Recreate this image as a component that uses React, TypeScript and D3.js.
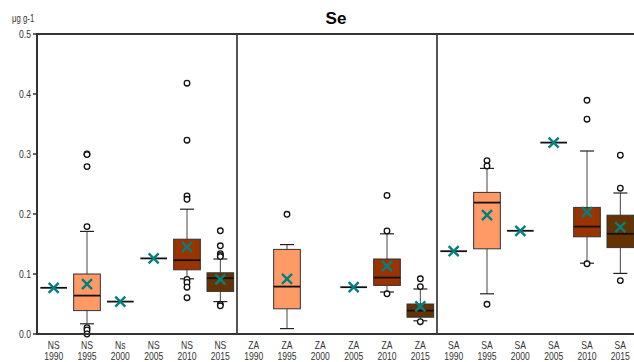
import React from "react";
import * as d3 from "d3";

// Sampling groups: site + year
const sites = ["NS", "NS", "Ns", "NS", "NS", "NS", "ZA", "ZA", "ZA", "ZA", "ZA", "ZA", "SA", "SA", "SA", "SA", "SA", "SA"];
const years = ["1990", "1995", "2000", "2005", "2010", "2015", "1990", "1995", "2000", "2005", "2010", "2015", "1990", "1995", "2000", "2005", "2010", "2015"];

// Box statistics (null where the group has no spread / no data)
const q1 = [null, 0.039, null, null, 0.107, 0.071, null, 0.042, null, null, 0.081, 0.028, null, 0.142, null, null, 0.162, 0.144];
const median = [0.077, 0.064, 0.054, 0.126, 0.123, 0.093, null, 0.079, null, 0.078, 0.094, 0.039, 0.138, 0.219, 0.172, 0.319, 0.179, 0.167];
const q3 = [null, 0.1, null, null, 0.158, 0.102, null, 0.141, null, null, 0.125, 0.05, null, 0.236, null, null, 0.211, 0.198];
const whiskerLow = [null, 0.017, null, null, 0.092, 0.054, null, 0.009, null, null, 0.07, 0.022, null, 0.067, null, null, 0.118, 0.101];
const whiskerHigh = [null, 0.171, null, null, 0.208, 0.125, null, 0.149, null, null, 0.167, 0.075, null, 0.276, null, null, 0.305, 0.235];
const means = [0.077, 0.083, 0.054, 0.126, 0.145, 0.091, null, 0.092, null, 0.078, 0.113, 0.046, 0.138, 0.198, 0.172, 0.319, 0.203, 0.178];
const outliers: number[][] = [
  [],
  [0.3, 0.299, 0.279, 0.179, 0.0105, 0.0067, 0.0],
  [],
  [],
  [0.418, 0.323, 0.23, 0.2245, 0.091, 0.086, 0.078, 0.0605],
  [0.172, 0.147, 0.134, 0.131, 0.129, 0.0495, 0.047],
  [],
  [0.1995],
  [],
  [],
  [0.231, 0.1717, 0.067],
  [0.092, 0.079, 0.0205],
  [],
  [0.289, 0.28, 0.0495],
  [],
  [],
  [0.3895, 0.358, 0.117],
  [0.298, 0.243, 0.089],
];

const yTicks = [0, 0.1, 0.2, 0.3, 0.4, 0.5];
const yearFill: Record<string, string> = { "1995": "#FF9966", "2010": "#993300", "2015": "#663300" };

const W = 634;
const H = 362;
const left = 37;
const top = 34;
const bottom = 334;
const font = "'Liberation Sans', Arial, sans-serif";

// Condensed label: regular sans squeezed horizontally
function NarrowText(props: { x: number; y: number; anchor: "start" | "middle" | "end"; size: number; children: React.ReactNode }) {
  return (
    <g transform={`translate(${props.x},${props.y}) scale(0.78,1)`}>
      <text x={0} y={0} textAnchor={props.anchor} fontSize={props.size} fill="#333">{props.children}</text>
    </g>
  );
}

export default function App() {
  const keys = sites.map((s, i) => `${i}`);
  const x = d3.scaleBand<string>().domain(keys).range([left, left + 600]).padding(0);
  const y = d3.scaleLinear().domain([0, 0.5]).range([bottom, top]);
  const bw = x.bandwidth();
  const boxW = bw * 0.8;
  const capW = 14;
  const xs = 5;

  return (
    <svg width={W} height={H} style={{ position: "fixed", left: 0, top: 0, background: "#fff" }} fontFamily={font}>
      <text x={336} y={24} textAnchor="middle" fontSize={17} fontWeight="bold" fill="#000">Se</text>
      <NarrowText x={12} y={22} anchor="start" size={10}>μg g-1</NarrowText>

      {/* panel dividers */}
      {[6, 12].map((i) => (
        <line key={i} x1={x(`${i}`)!} x2={x(`${i}`)!} y1={top} y2={bottom} stroke="#555" strokeWidth={2} />
      ))}
      <line x1={left} x2={W} y1={top} y2={top} stroke="#333" strokeWidth={2} />

      {/* y axis */}
      {yTicks.map((t) => (
        <g key={t}>
          <line x1={left - 4} x2={left + 1} y1={y(t)} y2={y(t)} stroke="#333" strokeWidth={1.5} />
          <NarrowText x={left - 6} y={y(t) + 4} anchor="end" size={11}>{t.toFixed(1)}</NarrowText>
        </g>
      ))}

      {/* boxes */}
      {keys.map((k, i) => {
        const cx = x(k)! + bw / 2;
        const items: React.ReactNode[] = [];
        if (q1[i] != null && q3[i] != null) {
          const fill = yearFill[years[i]];
          items.push(
            <line key="wl" x1={cx} x2={cx} y1={y(whiskerLow[i]!)} y2={y(q1[i]!)} stroke="#444" strokeWidth={1} />,
            <line key="wh" x1={cx} x2={cx} y1={y(whiskerHigh[i]!)} y2={y(q3[i]!)} stroke="#444" strokeWidth={1} />,
            <line key="cl" x1={cx - capW / 2} x2={cx + capW / 2} y1={y(whiskerLow[i]!)} y2={y(whiskerLow[i]!)} stroke="#222" strokeWidth={1.2} />,
            <line key="ch" x1={cx - capW / 2} x2={cx + capW / 2} y1={y(whiskerHigh[i]!)} y2={y(whiskerHigh[i]!)} stroke="#222" strokeWidth={1.2} />,
            <rect key="b" x={cx - boxW / 2} y={y(q3[i]!)} width={boxW} height={y(q1[i]!) - y(q3[i]!)} fill={fill} stroke="#333" strokeWidth={1} />
          );
        }
        if (median[i] != null) {
          items.push(
            <line key="m" x1={cx - boxW / 2} x2={cx + boxW / 2} y1={y(median[i]!)} y2={y(median[i]!)} stroke="#111" strokeWidth={1.8} />
          );
        }
        outliers[i].forEach((v, j) => {
          items.push(<circle key={`o${j}`} cx={cx} cy={y(v)} r={2.8} fill="#fff" stroke="#111" strokeWidth={1.3} />);
        });
        if (means[i] != null) {
          const my = y(means[i]!);
          items.push(
            <path key="x" d={`M${cx - xs},${my - xs}L${cx + xs},${my + xs}M${cx - xs},${my + xs}L${cx + xs},${my - xs}`} stroke="#008080" strokeWidth={2.4} fill="none" />
          );
        }
        items.push(
          <NarrowText key="s" x={cx} y={349} anchor="middle" size={11}>{sites[i]}</NarrowText>,
          <NarrowText key="yr" x={cx} y={360} anchor="middle" size={11}>{years[i]}</NarrowText>
        );
        return <g key={k}>{items}</g>;
      })}

      {/* axis lines */}
      <line x1={left} x2={left} y1={top - 1} y2={bottom + 1} stroke="#333" strokeWidth={2} />
      <line x1={left} x2={W} y1={bottom} y2={bottom} stroke="#333" strokeWidth={2} />
    </svg>
  );
}
